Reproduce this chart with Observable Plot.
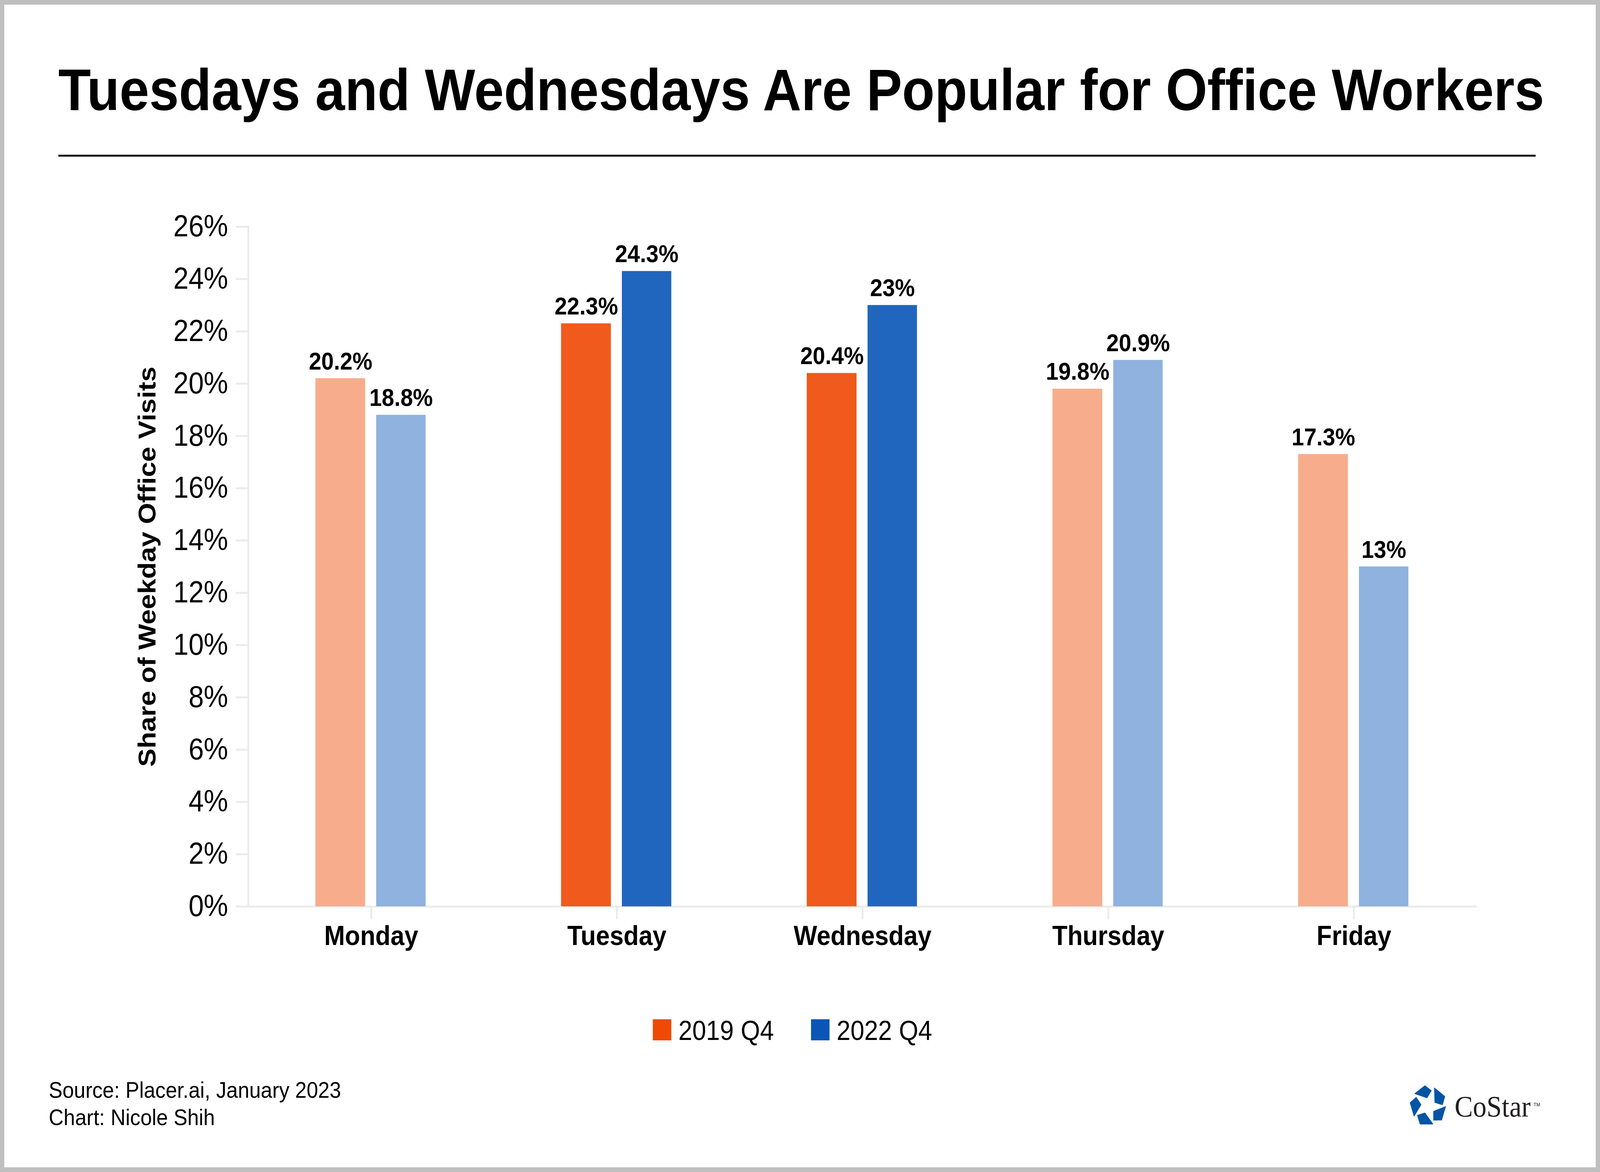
<!DOCTYPE html>
<html>
<head>
<meta charset="utf-8">
<script src="https://cdn.jsdelivr.net/npm/d3@7"></script>
<script src="https://cdn.jsdelivr.net/npm/@observablehq/plot@0.6"></script>
<style>
  html, body { margin: 0; padding: 0; background: #ffffff; overflow: hidden; }
  #page { position: absolute; left: 0; top: 0; width: 4500px; height: 3000px; background: #fff; overflow: hidden;
          transform-origin: 0 0;
          font-family: "Liberation Sans", Arial, Helvetica, sans-serif; color: #000; }
  #border { position: absolute; left: 0; top: 0; width: 4500px; height: 3000px; box-sizing: border-box;
            border: 12px solid #c0bfc0; pointer-events: none; }
  .abs { position: absolute; white-space: nowrap; }
  #title { left: 164px; top: 155px; font-size: 150px; line-height: 1; font-weight: bold; }
  #rule { left: 164px; top: 396px; width: 4155px; height: 5px; background: #111; }
  #chart { left: 0; top: 450px; }
  .sw { width: 52px; height: 54px; }
  .legtext { font-size: 70px; line-height: 1; top: 2603px; }
  #footer { left: 137px; top: 2755px; font-size: 58px; line-height: 70px; }
  #costar { left: 4091px; top: 2794px; font-family: "Liberation Serif", "DejaVu Serif", serif; font-size: 77px; line-height: 1; color: #231f20; }
  #tm { left: 4313px; top: 2821px; font-size: 13px; line-height: 1; color: #231f20; }
</style>
</head>
<body>
<div id="page">
  <div id="title" class="abs">Tuesdays and Wednesdays Are Popular for Office Workers</div>
  <div id="rule" class="abs"></div>
  <div id="chart" class="abs"></div>
  <div id="legend"></div>
  <div id="footer" class="abs">Source: Placer.ai, January 2023<br>Chart: Nicole Shih</div>
  <svg class="abs" style="left:3960px;top:2775px" width="110" height="110" viewBox="0 0 110 110">
    <g fill="#0055a5" stroke="#0055a5" stroke-width="2" stroke-linejoin="round">
      <polygon points="19.5,24.3 47.6,4.3 65.4,16.7 53.4,35"/>
      <polygon points="74.4,10 103.4,31.7 96.7,52.7 75.7,46.7"/>
      <polygon points="72.1,70 105.6,57.7 94.5,91.7 72.1,92.3"/>
      <polygon points="26.6,80 47.6,74 69.9,102.3 34.2,102.3"/>
      <polygon points="6.1,47.7 23,34 36.4,52.7 17.2,81.7"/>
    </g>
  </svg>
  <div id="costar" class="abs">CoStar</div>
  <div id="tm" class="abs">TM</div>
  <div id="border"></div>
</div>
<script>
// ---- data ----
const days = ["Monday", "Tuesday", "Wednesday", "Thursday", "Friday"];
const series = ["2019 Q4", "2022 Q4"];
const share2019 = [20.2, 22.3, 20.4, 19.8, 17.3];
const share2022 = [18.8, 24.3, 23, 20.9, 13];
const highlighted = ["Tuesday", "Wednesday"];
const yTicks = [0, 2, 4, 6, 8, 10, 12, 14, 16, 18, 20, 22, 24, 26];
const yLabel = "Share of Weekday Office Visits";

// ---- styles ----
const strong = {"2019 Q4": "#f05a1c", "2022 Q4": "#2166be"};
const light = {"2019 Q4": "#f7ad8c", "2022 Q4": "#8fb2de"};
const legendColors = {"2019 Q4": "#ef4a05", "2022 Q4": "#0a55b5"};
const gridGrey = "#ebebeb";

const rows2019 = days.map((day, i) => ({day, series: series[0], value: share2019[i]}));
const rows2022 = days.map((day, i) => ({day, series: series[1], value: share2022[i]}));
const fillOf = d => (highlighted.includes(d.day) ? strong : light)[d.series];

const valueText = {
  y: "value", x: "day", text: d => d.value + "%", lineAnchor: "bottom", dy: -23,
  fontWeight: "bold", fontSize: 63, fill: "#000"
};

const chart = Plot.plot({
  width: 4500,
  height: 2050,
  marginTop: 130,
  marginBottom: 180,
  marginLeft: 698,
  marginRight: 347,
  style: {fontFamily: "'Liberation Sans', Arial, Helvetica, sans-serif", background: "transparent", overflow: "visible", color: "#000"},
  x: {domain: days, padding: 0},
  y: {domain: [0, 26]},
  color: {type: "identity"},
  marks: [
    Plot.frame({anchor: "left", stroke: gridGrey, strokeWidth: 5}),
    Plot.ruleY([0], {stroke: gridGrey, strokeWidth: 5}),
    Plot.axisY({ticks: yTicks, tickFormat: d => d + "%", tickSize: 35, tickPadding: 22,
                stroke: gridGrey, strokeWidth: 5, fontSize: 77, label: null, fill: "#000"}),
    Plot.axisX({tickSize: 33, tickPadding: 16, stroke: gridGrey, strokeWidth: 5,
                fontSize: 70, fontWeight: "bold", label: null, fill: "#000"}),
    Plot.barY(rows2019, {x: "day", y: "value", fill: fillOf, insetLeft: 189, insetRight: 362}),
    Plot.barY(rows2022, {x: "day", y: "value", fill: fillOf, insetLeft: 360, insetRight: 192}),
    Plot.text(rows2019, {...valueText, dx: -86}),
    Plot.text(rows2022, {...valueText, dx: 84}),
    Plot.text([yLabel], {frameAnchor: "left", rotate: -90, dx: -284, lineAnchor: "middle", textAnchor: "middle",
                         fontWeight: "bold", fontSize: 70, fill: "#000"})
  ]
});
document.getElementById("chart").appendChild(chart);

// ---- legend (HTML) ----
const legend = document.getElementById("legend");
const legendPos = [{sw: 1836, tx: 1908}, {sw: 2281, tx: 2353}];
series.forEach((s, i) => {
  const sw = document.createElement("div");
  sw.className = "abs sw";
  sw.style.left = legendPos[i].sw + "px";
  sw.style.top = "2609px";
  sw.style.background = legendColors[s];
  legend.appendChild(sw);
  const t = document.createElement("div");
  t.className = "abs legtext";
  t.style.left = legendPos[i].tx + "px";
  t.textContent = s;
  legend.appendChild(t);
});

// ---- fit the 4500x3000 design into the actual window ----
function fit() {
  const sx = window.innerWidth / 4500, sy = window.innerHeight / 3000;
  document.getElementById("page").style.transform = `scale(${sx}, ${sy})`;
}
fit();
window.addEventListener("resize", fit);
</script>
</body>
</html>
